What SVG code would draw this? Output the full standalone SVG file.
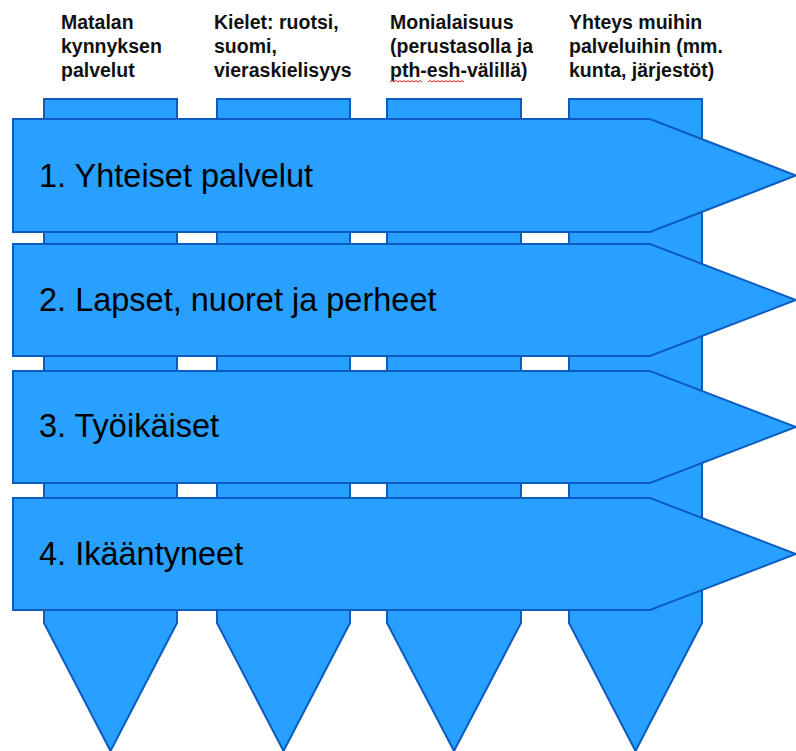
<svg xmlns="http://www.w3.org/2000/svg" width="796" height="751" viewBox="0 0 796 751">
<style>
.shape{fill:#27A0FF;stroke:#0B5BC0;stroke-width:2;stroke-linejoin:miter}
.hdr{font-family:"Liberation Sans",Arial,sans-serif;font-weight:bold;font-size:19.5px;fill:#111}
.lbl{font-family:"Liberation Sans",Arial,sans-serif;font-size:32.5px;fill:#000}
.sq{fill:none;stroke:#E02020;stroke-width:1}
</style>
<rect width="796" height="751" fill="#fff"/>
<g id="col1"><polygon class="shape" points="44,99 177,99 177,623 110.5,751 44,623"/>
<text class="hdr"><tspan x="61" y="29">Matalan</tspan><tspan x="61" y="53">kynnyksen</tspan><tspan x="61" y="77">palvelut</tspan></text></g>
<g id="col2"><polygon class="shape" points="217,99 350,99 350,623 283.5,751 217,623"/>
<text class="hdr"><tspan x="214" y="29">Kielet: ruotsi,</tspan><tspan x="214" y="53">suomi,</tspan><tspan x="214" y="77">vieraskielisyys</tspan></text></g>
<g id="col3"><polygon class="shape" points="387,99 521,99 521,623 454,751 387,623"/>
<text class="hdr"><tspan x="390" y="29">Monialaisuus</tspan><tspan x="390" y="53">(perustasolla ja</tspan><tspan x="390" y="77">pth-esh-välillä)</tspan></text>
<path class="sq" d="M390,82 l2,-1.5 l2,1.5 l2,-1.5 l2,1.5 l2,-1.5 l2,1.5 l2,-1.5 l2,1.5 l2,-1.5 l2,1.5 l2,-1.5 l2,1.5 l2,-1.5 l2,1.5 l2,-1.5 l2,1.5"/>
<path class="sq" d="M428,82 l2,-1.5 l2,1.5 l2,-1.5 l2,1.5 l2,-1.5 l2,1.5 l2,-1.5 l2,1.5 l2,-1.5 l2,1.5 l2,-1.5 l2,1.5 l2,-1.5 l2,1.5 l2,-1.5 l2,1.5 l2,-1.5 l2,1.5"/></g>
<g id="col4"><polygon class="shape" points="569,99 702,99 702,623 635.5,751 569,623"/>
<text class="hdr"><tspan x="569" y="29">Yhteys muihin</tspan><tspan x="569" y="53">palveluihin (mm.</tspan><tspan x="569" y="77">kunta, järjestöt)</tspan></text></g>
<g id="row1"><polygon class="shape" points="13,119 650,119 796,175.5 650,232 13,232"/>
<text class="lbl" x="39" y="187">1. Yhteiset palvelut</text></g>
<g id="row2"><polygon class="shape" points="13,244 650,244 796,300 650,356 13,356"/>
<text class="lbl" x="39" y="311">2. Lapset, nuoret ja perheet</text></g>
<g id="row3"><polygon class="shape" points="13,371 650,371 796,427 650,483 13,483"/>
<text class="lbl" x="39" y="437">3. Työikäiset</text></g>
<g id="row4"><polygon class="shape" points="13,498 650,498 796,554 650,610 13,610"/>
<text class="lbl" x="39" y="565">4. Ikääntyneet</text></g>
<g id="connectors"/>
</svg>
